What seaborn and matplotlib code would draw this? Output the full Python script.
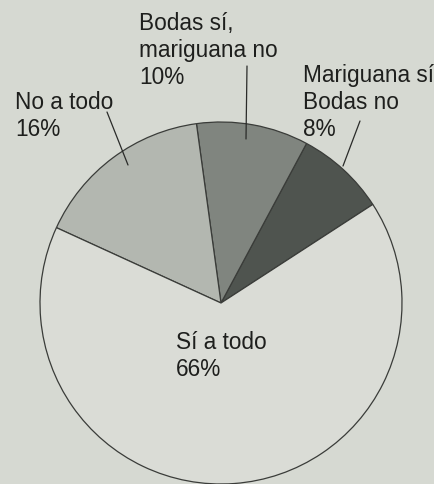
import matplotlib
matplotlib.use("Agg")
import matplotlib.pyplot as plt
import seaborn as sns

# slices, counter-clockwise from the right-hand edge
labels = ["Mariguana sí\nBodas no\n8%", "Bodas sí,\nmariguana no\n10%",
          "No a todo\n16%", "Sí a todo\n66%"]
shares = [8, 10, 16, 66]
colors = ["#4f544f", "#80857f", "#b3b7b0", "#dadcd6"]

W, H = 434, 485
bg = "#d6d9d2"

sns.set_theme(style="white")
plt.rcParams['font.family'] = ['Liberation Sans', 'DejaVu Sans']

fig = plt.figure(figsize=(W / 100, H / 100), dpi=100, facecolor=bg)
ax = fig.add_axes([0, 0, 1, 1])
ax.set_facecolor(bg)
ax.axis("off")

cx, cy, r = 221, H - 304, 181
ax.pie(shares, colors=colors, startangle=33, counterclock=True,
       center=(cx, cy), radius=r,
       wedgeprops=dict(edgecolor="#3a3c39", linewidth=0.9))
ax.set_xlim(0, W)
ax.set_ylim(0, H)
ax.set_aspect("equal")

# label positions in pixels (x, top y)
pos = [(303, 64), (139, 12), (15, 91), (176, 331)]
for lab, (x, y) in zip(labels, pos):
    ax.text(x, H - y, lab, ha="left", va="top", fontsize=16.3,
            color="#1e1f1d", linespacing=1.22)

# leader lines
leaders = [((360, 122), (343, 167)), ((247, 67), (246, 140)),
           ((107, 113), (128, 166))]
for (x0, y0), (x1, y1) in leaders:
    ax.plot([x0, x1], [H - y0, H - y1], color="#2a2b29", lw=0.9)

fig.savefig("out.png", dpi=100, facecolor=bg)
